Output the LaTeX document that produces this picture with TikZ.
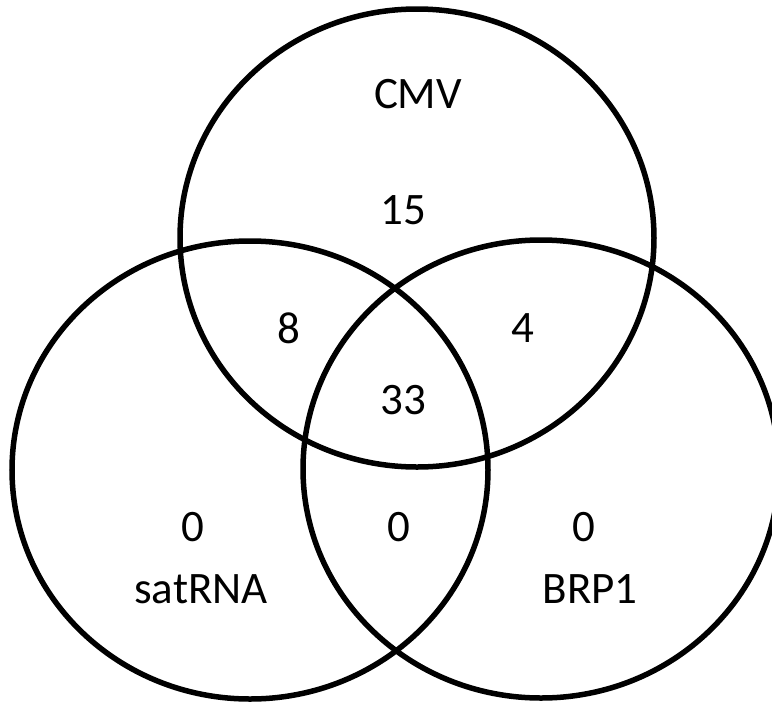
\documentclass[tikz,border=0pt]{standalone}
\usepackage{fontspec}
\setmainfont{Carlito}
\begin{document}
\begin{tikzpicture}[x=1pt,y=-1pt,
  venn/.style={draw=black, line width=5.5pt},
  lbl/.style={font=\fontsize{45}{54}\selectfont, inner sep=0pt}]
\useasboundingbox (0,0) rectangle (772,702);
\draw[venn] (417,238) ellipse [x radius=237pt, y radius=229pt];
\draw[venn] (250,470) ellipse [x radius=238pt, y radius=229pt];
\draw[venn] (541,469) ellipse [x radius=238pt, y radius=229pt];
\node[lbl] (cmv) at (418,94) {CMV};
\node[lbl] (n15) at (403,210) {15};
\node[lbl] (n8) at (289,328) {8};
\node[lbl] (n4) at (523,328) {4};
\node[lbl] (n33) at (403,400) {33};
\node[lbl] (n0l) at (193,527) {0};
\node[lbl] (n0m) at (399,527) {0};
\node[lbl] (n0r) at (584,527) {0};
\node[lbl] (sat) at (201,589) {satRNA};
\node[lbl] (brp) at (590,589) {BRP1};
\end{tikzpicture}
\end{document}
